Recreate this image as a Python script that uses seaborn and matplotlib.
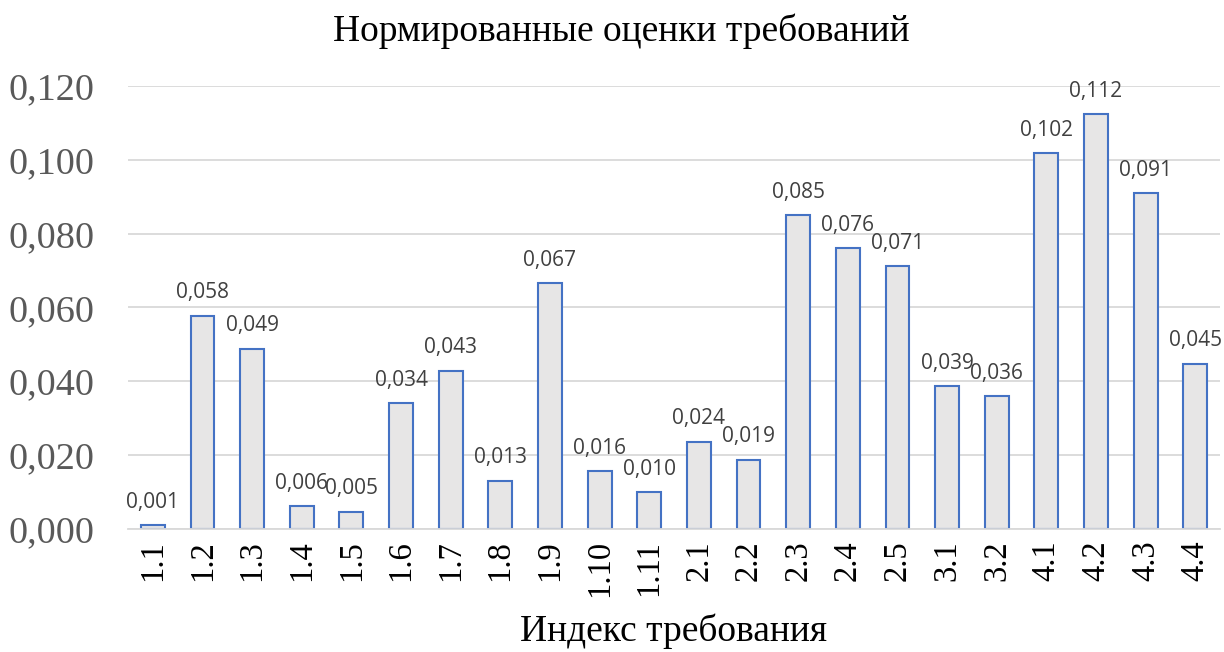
import matplotlib
matplotlib.use("Agg")
import matplotlib.pyplot as plt
import seaborn as sns
import pandas as pd

# Data
indices = ['1.1', '1.2', '1.3', '1.4', '1.5', '1.6', '1.7', '1.8', '1.9', '1.10', '1.11',
           '2.1', '2.2', '2.3', '2.4', '2.5', '3.1', '3.2', '4.1', '4.2', '4.3', '4.4']
values = [0.0010, 0.0577, 0.0488, 0.0062, 0.0046, 0.0341, 0.0428, 0.0130, 0.0666, 0.0157, 0.0100,
          0.0236, 0.0187, 0.0850, 0.0761, 0.0712, 0.0387, 0.0360, 0.1018, 0.1124, 0.0910, 0.0447]
yticks = [0.0, 0.02, 0.04, 0.06, 0.08, 0.10, 0.12]

df = pd.DataFrame({'idx': indices, 'val': values})

sns.set_style("white")
serif = ['Liberation Serif', 'DejaVu Serif']

fig = plt.figure(figsize=(12.24, 6.52), dpi=100)
ax = fig.add_axes([0.1046, 0.1887, 0.8922, 0.6794])

sns.barplot(data=df, x='idx', y='val', order=indices, color='#e7e6e6',
            edgecolor='#4472c4', linewidth=1.5, width=0.48, saturation=1, ax=ax)

# value labels
ax.bar_label(ax.containers[0],
             labels=[f"{v:.3f}".replace('.', ',') for v in values],
             padding=9, fontsize=15, color='#404040', family=['Open Sans', 'DejaVu Sans'])

ax.set_xlim(-0.5, len(indices) - 0.5)
ax.set_ylim(0, 0.12)
ax.set_yticks(yticks)
ax.set_yticklabels([f"{t:.3f}".replace('.', ',') for t in yticks],
                   family=serif, fontsize=27.5, color='#595959')
ax.set_xticks(range(len(indices)))
ax.set_xticklabels(indices, rotation=90, family=serif, fontsize=23.5, color='black')
ax.tick_params(axis='y', length=0, pad=24)
ax.tick_params(axis='x', length=0, pad=8)
ax.yaxis.grid(True, color='#d9d9d9', linewidth=1.3)
ax.set_axisbelow(True)
for s in ['top', 'right', 'left']:
    ax.spines[s].set_visible(False)
ax.spines['bottom'].set_color('#d9d9d9')
ax.spines['bottom'].set_linewidth(1.3)
ax.set_xlabel('')
ax.set_ylabel('')

fig.text(0.508, 0.952, 'Нормированные оценки требований', ha='center', va='center',
         family=serif, fontsize=27, color='black')
fig.text(0.55, 0.005, 'Индекс требования', ha='center', va='bottom',
         family=serif, fontsize=27, color='black')

fig.savefig('out.png', dpi=100)
